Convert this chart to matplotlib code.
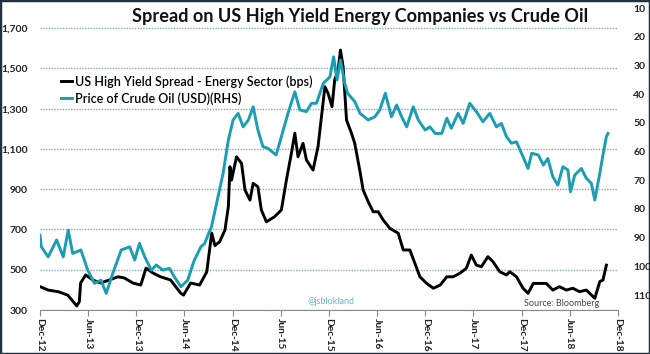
import matplotlib
matplotlib.use("Agg")
import matplotlib.pyplot as plt
import matplotlib.dates as mdates
from matplotlib.patches import Rectangle
import pandas as pd

plt.rcParams['font.family'] = ['Lato', 'DejaVu Sans']

# US HY energy spread (bps)
spread_dates = [
    "2012-12-01", "2013-01-01", "2013-02-08", "2013-03-16", "2013-04-10", "2013-04-19",
    "2013-04-29", "2013-05-04", "2013-05-23", "2013-06-19", "2013-07-19", "2013-08-21",
    "2013-09-22", "2013-10-17", "2013-11-18", "2013-12-18", "2014-01-07", "2014-02-03",
    "2014-03-03", "2014-04-10", "2014-05-18", "2014-05-29", "2014-06-25", "2014-07-29",
    "2014-08-25", "2014-09-13", "2014-09-25", "2014-10-13", "2014-11-02", "2014-11-15",
    "2014-11-21", "2014-11-27", "2014-12-16", "2015-01-04", "2015-01-17", "2015-02-05",
    "2015-02-17", "2015-03-07", "2015-03-20", "2015-04-08", "2015-05-09", "2015-06-04",
    "2015-06-23", "2015-07-12", "2015-07-25", "2015-08-06", "2015-08-25", "2015-09-07",
    "2015-10-02", "2015-10-21", "2015-11-16", "2015-11-28", "2015-12-13", "2015-12-23",
    "2016-01-05", "2016-01-14", "2016-01-24", "2016-02-06", "2016-02-25", "2016-03-08",
    "2016-03-27", "2016-04-09", "2016-04-28", "2016-05-17", "2016-06-05", "2016-06-24",
    "2016-07-19", "2016-08-20", "2016-09-08", "2016-10-03", "2016-10-22", "2016-11-10",
    "2016-12-06", "2016-12-31", "2017-01-26", "2017-02-20", "2017-03-16", "2017-04-10",
    "2017-05-05", "2017-05-24", "2017-06-12", "2017-07-01", "2017-07-26", "2017-08-14",
    "2017-09-09", "2017-10-04", "2017-10-17", "2017-11-11", "2017-12-06", "2017-12-25",
    "2018-01-14", "2018-02-08", "2018-03-04", "2018-03-29", "2018-04-23", "2018-05-19",
    "2018-06-13", "2018-07-08", "2018-08-03", "2018-09-04", "2018-09-23", "2018-10-05",
    "2018-10-18",
]
spread = [
    416, 399, 391, 374, 335, 320, 341, 434, 474, 449, 434, 449,
    465, 459, 434, 424, 508, 483, 465, 449, 384, 374, 434, 424,
    489, 682, 620, 639, 697, 813, 1012, 945, 1061, 1028, 896, 846,
    929, 912, 797, 738, 763, 797, 945, 1079, 1178, 1061, 1128, 1045,
    995, 1112, 1409, 1376, 1310, 1442, 1492, 1591, 1508, 1243, 1177, 1128,
    995, 896, 838, 788, 788, 747, 706, 681, 598, 598, 532, 465,
    432, 408, 424, 465, 465, 482, 507, 573, 523, 515, 565, 540,
    490, 474, 490, 465, 408, 383, 432, 432, 432, 399, 416, 399,
    408, 391, 399, 358, 441, 449, 523,
]

# Crude oil price (USD), right axis inverted
oil_dates = [
    "2012-12-01", "2012-12-06", "2013-01-01", "2013-02-02", "2013-02-27", "2013-03-18",
    "2013-04-04", "2013-05-05", "2013-05-31", "2013-06-25", "2013-07-20", "2013-08-09",
    "2013-09-03", "2013-10-05", "2013-11-06", "2013-11-25", "2013-12-13", "2014-01-02",
    "2014-01-27", "2014-02-15", "2014-03-11", "2014-04-06", "2014-04-24", "2014-05-19",
    "2014-06-14", "2014-07-09", "2014-08-03", "2014-08-17", "2014-09-12", "2014-10-07",
    "2014-10-26", "2014-11-15", "2014-12-03", "2014-12-22", "2015-01-10", "2015-01-30",
    "2015-02-17", "2015-03-07", "2015-03-26", "2015-04-14", "2015-05-15", "2015-06-04",
    "2015-06-29", "2015-07-25", "2015-08-13", "2015-09-07", "2015-09-26", "2015-10-15",
    "2015-11-10", "2015-12-05", "2015-12-19", "2016-01-01", "2016-01-14", "2016-01-30",
    "2016-02-10", "2016-03-08", "2016-03-28", "2016-04-28", "2016-05-23", "2016-06-11",
    "2016-07-02", "2016-07-25", "2016-08-14", "2016-09-02", "2016-09-21", "2016-10-16",
    "2016-11-04", "2016-11-30", "2016-12-18", "2017-01-07", "2017-02-01", "2017-02-20",
    "2017-03-09", "2017-04-04", "2017-04-23", "2017-05-18", "2017-06-12", "2017-07-07",
    "2017-08-02", "2017-08-27", "2017-09-15", "2017-10-04", "2017-10-23", "2017-11-11",
    "2017-12-06", "2017-12-25", "2018-01-08", "2018-02-02", "2018-02-21", "2018-03-10",
    "2018-03-29", "2018-04-17", "2018-05-06", "2018-05-25", "2018-06-04", "2018-06-20",
    "2018-07-15", "2018-08-03", "2018-08-22", "2018-09-04", "2018-09-23", "2018-10-05",
    "2018-10-18", "2018-10-24",
]
oil = [
    89.1, 93.2, 96.7, 90.8, 96.7, 87.4, 95.5, 94.3, 101.3, 105.9, 104.8, 109.4,
    102.4, 94.3, 93.2, 97.8, 92.0, 96.7, 101.3, 99.5, 101.3, 100.7, 103.6, 107.1,
    104.8, 97.8, 93.2, 92.0, 86.2, 75.7, 67.6, 56.0, 49.0, 46.7, 51.4, 49.0,
    44.4, 52.5, 58.3, 58.9, 61.2, 54.8, 46.7, 39.2, 45.5, 46.1, 43.2, 43.2,
    36.2, 34.0, 27.0, 35.1, 28.1, 36.2, 39.7, 42.6, 46.7, 49.0, 47.9, 45.5,
    39.7, 47.9, 43.8, 47.9, 51.4, 44.4, 49.0, 52.5, 51.4, 53.7, 53.7, 48.4,
    51.9, 46.7, 50.2, 43.2, 46.1, 49.6, 46.7, 51.4, 50.2, 54.8, 57.1, 56.6,
    61.8, 65.9, 60.6, 61.2, 64.7, 62.4, 68.8, 71.7, 65.3, 66.4, 74.0, 68.2,
    65.9, 69.3, 71.1, 76.9, 67.6, 61.2, 54.8, 53.7,
]

left_ticks = [300, 500, 700, 900, 1100, 1300, 1500, 1700]
right_ticks = [10, 20, 30, 40, 50, 60, 70, 80, 90, 100, 110]

black = "#000000"
teal = "#1b9db2"
grid_col = "#86aab0"

fig = plt.figure(figsize=(6.5, 3.54), dpi=100)
ax = fig.add_axes([40 / 650, 44 / 354, 578 / 650, 302 / 354])
ax2 = ax.twinx()

sd = pd.to_datetime(spread_dates)
od = pd.to_datetime(oil_dates)

l1, = ax.plot(sd, spread, color=black, lw=2.1, label="US High Yield Spread - Energy Sector (bps)")
l2, = ax2.plot(od, oil, color=teal, lw=2.1, label="Price of Crude Oil (USD)(RHS)")

ax.set_ylim(300, 1800)
ax.set_yticks(left_ticks)
ax.set_yticklabels([f"{v:,}" for v in left_ticks])
ax2.set_ylim(115.2, 10)
ax2.set_yticks(right_ticks)

ax.set_xlim(pd.Timestamp("2012-12-01"), pd.Timestamp("2018-12-01"))
ax.xaxis.set_major_locator(mdates.MonthLocator(bymonth=[6, 12]))
ax.xaxis.set_major_formatter(mdates.DateFormatter("%b-%y"))

ax.grid(axis="y", color=grid_col, ls=(0, (1, 1)), lw=1.0)
ax.set_axisbelow(True)

for a in (ax, ax2):
    for s in ("top", "left", "right"):
        a.spines[s].set_visible(False)
ax2.spines["bottom"].set_visible(False)
ax.spines["bottom"].set_color("#8a8a8a")

ax.tick_params(axis="y", length=0, pad=9, labelsize=7.5)
ax2.tick_params(axis="y", length=0, pad=11, labelsize=7.5)
ax.tick_params(axis="x", length=4, color="#8a8a8a", labelsize=7.3, pad=2)
for lab in ax.get_xticklabels():
    lab.set_rotation(-90)
    lab.set_fontweight("bold")
    lab.set_color("#222222")
for lab in ax.get_yticklabels() + ax2.get_yticklabels():
    lab.set_fontweight("bold")
    lab.set_color("#222222")

fig.text(0.554, 0.952, "Spread on US High Yield Energy Companies vs Crude Oil",
         ha="center", va="center", fontsize=13.1, fontweight="bold", color="#111111")

fig.legend(handles=[l1, l2], loc="upper left", bbox_to_anchor=(0.084, 0.806),
           frameon=False, handlelength=0.9, handletextpad=0.2,
           labelspacing=0.35, borderpad=0, prop={"weight": "semibold", "size": 9})

fig.text(308 / 650, 1 - 302 / 354, "@jsblokland", fontsize=6.5, color="#5fbccb",
         va="center", ha="left")
fig.text(524 / 650, 1 - 304 / 354, "Source: Bloomberg", fontsize=6.5, color="#444444",
         va="center", ha="left")

fig.patches.append(Rectangle((0, 0), 1, 1, transform=fig.transFigure, fill=False,
                             edgecolor="#1f3440", lw=2.5))

fig.savefig("out.png", dpi=100)
